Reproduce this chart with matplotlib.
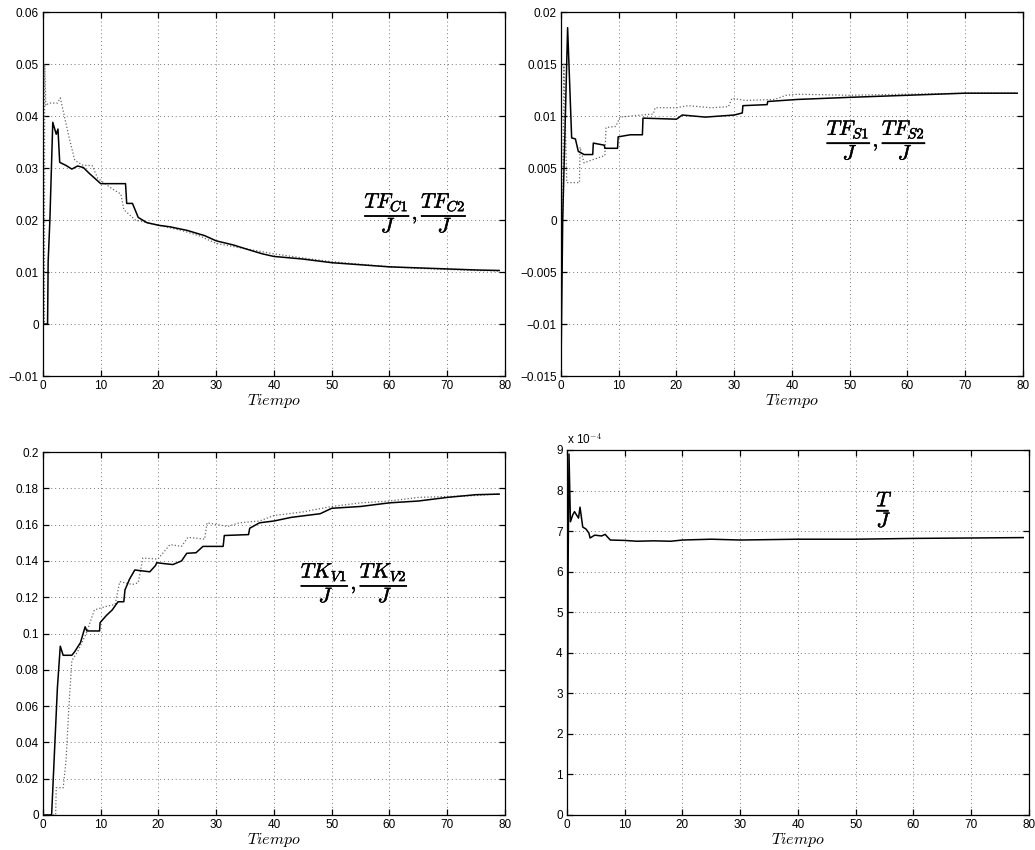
import matplotlib
matplotlib.use("Agg")
import matplotlib.pyplot as plt
import matplotlib.patheffects as pe
from matplotlib.ticker import FuncFormatter, MultipleLocator

plt.rcParams['font.family'] = ['Liberation Sans', 'DejaVu Sans']
plt.rcParams['mathtext.fontset'] = 'cm'

# ---- data (time, value) ----
# TF_C / J
tc1_t = [0, 0.8, 0.9, 1.2, 1.7, 2.3, 2.6, 2.9, 4, 5, 6, 7, 8, 9, 10, 14.3, 14.5, 15.5,
         16.5, 18, 20, 22, 25, 28, 30, 33, 35, 38, 40, 45, 50, 55, 60, 65, 70, 75, 79]
tc1_v = [0, 0, 0.012, 0.02, 0.0388, 0.0365, 0.0375, 0.0311, 0.0305, 0.0298, 0.0304, 0.0301,
         0.029, 0.028, 0.027, 0.027, 0.0232, 0.0232, 0.0205, 0.0195, 0.019, 0.0187, 0.018,
         0.017, 0.016, 0.0152, 0.0145, 0.0135, 0.013, 0.0125, 0.0118, 0.0114, 0.011, 0.0108,
         0.0106, 0.0104, 0.0103]
tc2_t = [0, 0.25, 0.3, 0.5, 1, 2.5, 3, 3.5, 4.5, 5.5, 7, 8.5, 9.5, 12, 13.5, 14, 16, 20,
         24, 27, 30, 35, 40, 45, 50, 55, 60, 65, 70, 75, 79]
tc2_v = [0, 0, 0.05, 0.042, 0.0425, 0.0425, 0.0435, 0.041, 0.036, 0.0315, 0.0305, 0.0305,
         0.028, 0.026, 0.025, 0.022, 0.02, 0.019, 0.018, 0.017, 0.0155, 0.0145, 0.0135,
         0.0127, 0.012, 0.0115, 0.011, 0.0107, 0.0105, 0.0103, 0.0102]

# TF_S / J
ts1_t = [0, 0.3, 1.15, 1.85, 2.5, 3, 4, 5.5, 5.6, 7.5, 7.6, 9.8, 9.9, 12, 14.1, 14.2, 20,
         21, 25, 30, 31.4, 31.5, 35.7, 35.8, 41, 50, 60, 70, 79]
ts1_v = [-0.0145, 0, 0.0185, 0.0079, 0.0078, 0.0066, 0.0063, 0.0063, 0.0074, 0.0072, 0.0069,
         0.0069, 0.008, 0.0082, 0.0082, 0.0098, 0.0097, 0.0101, 0.0099, 0.0101, 0.0103,
         0.011, 0.0111, 0.0114, 0.0116, 0.0118, 0.012, 0.0122, 0.0122]
ts2_t = [0.3, 0.5, 0.9, 1, 2.5, 3.2, 3.3, 4, 5, 6.5, 7.6, 7.8, 9.5, 10.2, 12, 16, 16.3,
         20, 22, 26, 29, 29.6, 32, 37, 39, 41, 50, 60, 70, 79]
ts2_v = [0.0, 0.015, 0.006, 0.0036, 0.0036, 0.0036, 0.007, 0.0055, 0.0057, 0.006, 0.0062,
         0.0089, 0.009, 0.0099, 0.01, 0.0102, 0.0108, 0.0108, 0.011, 0.0108, 0.0109, 0.0117,
         0.0115, 0.0116, 0.012, 0.0121, 0.012, 0.0121, 0.0122, 0.0122]

# TK_V / J
tk1_t = [0, 1.5, 2.5, 3, 3.5, 5, 5.5, 6.5, 7.3, 7.6, 9.8, 9.9, 11, 12, 13, 14, 14.2, 15,
         15.9, 18.5, 19.5, 19.7, 21, 22.5, 24, 24.9, 26.5, 27.7, 31.2, 31.4, 35.6, 35.8,
         37.5, 40, 43, 48, 50, 55, 60, 65, 70, 75, 79]
tk1_v = [0, 0, 0.07, 0.093, 0.088, 0.088, 0.09, 0.095, 0.1037, 0.1014, 0.1014, 0.106, 0.11,
         0.113, 0.1175, 0.1175, 0.124, 0.13, 0.135, 0.134, 0.1375, 0.139, 0.1385, 0.138, 0.14,
         0.1442, 0.1445, 0.148, 0.148, 0.154, 0.1545, 0.158, 0.161, 0.162, 0.164, 0.166, 0.169,
         0.17, 0.172, 0.173, 0.175, 0.1765, 0.1768]
tk2_t = [0, 2.2, 2.3, 3.5, 4, 4.5, 5, 6, 7.5, 8.9, 11, 12.5, 13.3, 15.5, 16.5, 17.3, 19.9,
         22, 24, 25.1, 28, 28.4, 32, 34, 37.5, 40, 45, 50, 55, 60, 65, 70, 75, 79]
tk2_v = [0, 0, 0.015, 0.015, 0.03, 0.06, 0.085, 0.09, 0.1, 0.113, 0.115, 0.116, 0.1286,
         0.127, 0.128, 0.1416, 0.141, 0.149, 0.148, 0.153, 0.152, 0.161, 0.159, 0.161, 0.162,
         0.165, 0.167, 0.17, 0.172, 0.173, 0.175, 0.1755, 0.176, 0.177]

# T / J  (x 1e-4)
tj_t = [0, 0.15, 0.2, 0.35, 0.6, 1, 1.3, 2, 2.26, 2.73, 3.3, 3.8, 4, 4.8, 6, 6.6, 7.5, 10,
        12.1, 15, 18, 20, 25, 30, 40, 50, 60, 70, 79]
tj_v = [0, 4.2, 6.2, 8.9, 7.23, 7.4, 7.48, 7.32, 7.59, 7.1, 7.05, 6.95, 6.83, 6.9, 6.88,
        6.92, 6.78, 6.77, 6.75, 6.76, 6.75, 6.78, 6.8, 6.78, 6.8, 6.8, 6.82, 6.83, 6.84]

fmt = FuncFormatter(lambda v, p: ('%g' % round(v, 6)).replace('-', '\u2212'))
bold = [pe.withStroke(linewidth=0.35, foreground='black')]

fig = plt.figure(figsize=(10.35, 8.5), dpi=100)
ax1 = fig.add_axes([0.0415, 0.5576, 0.4464, 0.4282])
ax2 = fig.add_axes([0.5420, 0.5576, 0.4464, 0.4282])
ax3 = fig.add_axes([0.0415, 0.0412, 0.4464, 0.4270])
ax4 = fig.add_axes([0.5478, 0.0412, 0.4464, 0.4294])


def style(ax, ylo, yhi, ystep):
    ax.set_xlim(0, 80)
    ax.set_ylim(ylo, yhi)
    ax.xaxis.set_major_locator(MultipleLocator(10))
    ax.yaxis.set_major_locator(MultipleLocator(ystep))
    ax.yaxis.set_major_formatter(fmt)
    ax.grid(True, linestyle=(0, (1, 3)), color='#777777', linewidth=0.7)
    ax.tick_params(direction='in', top=True, right=True, length=4, width=0.9,
                   labelsize=8.5, pad=3)
    for s in ax.spines.values():
        s.set_linewidth(0.9)
    ax.set_xlabel(r'$Tiempo$', fontsize=11.5, labelpad=0)


def label(ax, x, y, s):
    ax.text(x, y, s, fontsize=15, ha='center', va='center', path_effects=bold)


style(ax1, -0.01, 0.06, 0.01)
ax1.plot(tc2_t, tc2_v, color='#666666', linestyle=':', linewidth=0.9)
ax1.plot(tc1_t, tc1_v, color='black', linewidth=1.1)
label(ax1, 64.6, 0.0214, r'$\dfrac{TF_{C1}}{J},\dfrac{TF_{C2}}{J}$')

style(ax2, -0.015, 0.02, 0.005)
ax2.plot(ts2_t, ts2_v, color='#666666', linestyle=':', linewidth=0.9)
ax2.plot(ts1_t, ts1_v, color='black', linewidth=1.1)
label(ax2, 54.7, 0.0077, r'$\dfrac{TF_{S1}}{J},\dfrac{TF_{S2}}{J}$')

style(ax3, 0, 0.2, 0.02)
ax3.plot(tk2_t, tk2_v, color='#666666', linestyle=':', linewidth=0.9)
ax3.plot(tk1_t, tk1_v, color='black', linewidth=1.1)
label(ax3, 54, 0.128, r'$\dfrac{TK_{V1}}{J},\dfrac{TK_{V2}}{J}$')

style(ax4, 0, 9, 1)
ax4.plot(tj_t, tj_v, color='black', linewidth=1.1)
label(ax4, 55, 7.54, r'$\dfrac{T}{J}$')
ax4.text(0, 1.008, r'x 10$^{-4}$', transform=ax4.transAxes, fontsize=8.5,
         ha='left', va='bottom')

fig.savefig('out.png', dpi=100)
